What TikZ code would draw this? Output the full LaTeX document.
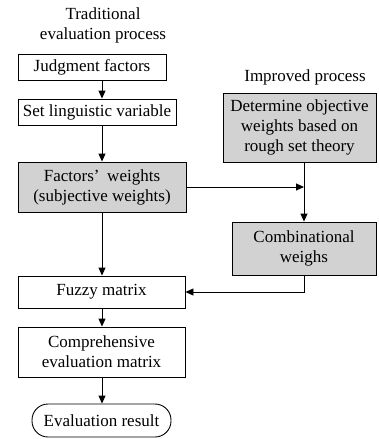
\documentclass[tikz,border=0pt]{standalone}
\usepackage{fontspec}
\setmainfont{Liberation Serif}
\usetikzlibrary{arrows.meta}
\tikzset{
  box/.style={draw, line width=0.9pt, inner sep=0pt, align=center, font=\fontsize{17}{20}\selectfont},
  grbox/.style={box, fill=gray!35},
  lbl/.style={align=center, font=\fontsize{17}{20}\selectfont},
  arr/.style={-{Triangle[length=8pt,width=7pt]}, line width=0.9pt},
}
\begin{document}
\begin{tikzpicture}[x=1pt,y=-1pt]
\useasboundingbox (0,0) rectangle (379,439);
\node[lbl] (ttl0) at (103,25){Traditional\\evaluation process};
\node[lbl] (ttl1) at (305,77){Improved process};
\node[box, minimum width=148pt, minimum height=26pt] (judg) at (92,67){Judgment factors};
\node[box, minimum width=158pt, minimum height=26pt] (ling) at (97,112){Set linguistic variable};
\node[grbox, minimum width=168pt, minimum height=50pt] (fw) at (102,187){Factors’\hspace{0.45em}weights\\(subjective weights)};
\node[box, minimum width=167pt, minimum height=32pt] (fuzzy) at (101.5,292){Fuzzy matrix};
\node[box, minimum width=167pt, minimum height=50pt] (comp) at (101.5,352){Comprehensive\\evaluation matrix};
\node[box, rounded corners=16pt, minimum width=139pt, minimum height=33pt] (res) at (101.5,420.5){Evaluation result};
\node[grbox, minimum width=153pt, minimum height=69pt] (obj) at (299.5,127.5){Determine objective\\weights based on\\rough set theory};
\node[grbox, minimum width=144pt, minimum height=53pt] (comb) at (304,248.5){Combinational\\weighs};
\draw[arr](judg.south -| fw) -- (ling.north -| fw);
\draw[arr](ling.south -| fw) -- (fw.north);
\draw[arr](fw.south) -- (fuzzy.north -| fw);
\draw[arr](fuzzy.south -| fw) -- (comp.north -| fw);
\draw[arr](comp.south -| fw) -- (res.north -| fw);
\draw[arr](fw.east) -- (fw.east -| comb);
\draw[arr](obj.south -| comb) -- (comb.north);
\draw[arr](comb.south) |- (fuzzy.east);
\end{tikzpicture}
\end{document}
